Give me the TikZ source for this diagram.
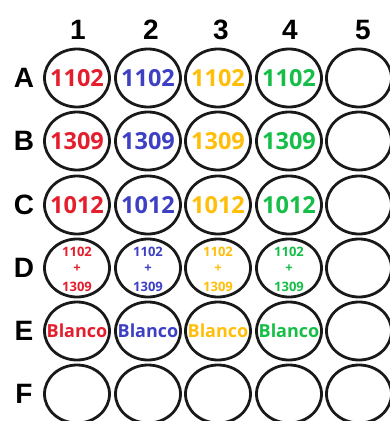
\documentclass[tikz,border=0pt]{standalone}
\usepackage{fontspec}
\usetikzlibrary{shapes.geometric}
\setmainfont{Open Sans}
\newfontfamily\hdfont{Liberation Sans}
\definecolor{cred}{RGB}{228,30,45}
\definecolor{cblue}{RGB}{62,64,196}
\definecolor{cyel}{RGB}{255,190,10}
\definecolor{cgreen}{RGB}{22,190,72}
\begin{document}
\begin{tikzpicture}[x=1pt,y=-1pt,
  well/.style={draw=black!90,line width=2.8pt,ellipse,minimum width=65pt,minimum height=58pt,inner sep=0pt},
  hd/.style={font=\hdfont\bfseries\fontsize{28}{28}\selectfont,inner sep=0pt},
  big/.style={font=\bfseries\fontsize{23.5}{23.5}\selectfont,inner sep=0pt},
  small/.style={font=\bfseries\fontsize{13}{13}\selectfont,inner sep=0pt},
  bl/.style={font=\bfseries\fontsize{18}{18}\selectfont,inner sep=0pt}]
\useasboundingbox (0,0) rectangle (390,421);
\clip (0,0) rectangle (390,421);
% column headers
\foreach \c/\x in {1/78,2/151,3/221,4/290,5/363}
  \node[hd] (col\c) at (\x,30) {\c};
% row headers
\foreach \r/\y in {A/78,B/141,C/205,D/268,E/331,F/394}
  \node[hd] (row\r) at (24,\y) {\r};
% wells
\foreach \r/\y in {A/78,B/141,C/205,D/268,E/331,F/394}
  \foreach \c/\x in {1/77,2/148,3/218,4/289,5/359}
    \node[well] (w\r\c) at (\x,\y) {};
% labels
\foreach \c/\col in {1/cred,2/cblue,3/cyel,4/cgreen}{
  \node[big,text=\col] (tA\c) at (wA\c) {1102};
  \node[big,text=\col] (tB\c) at (wB\c) {1309};
  \node[big,text=\col] (tC\c) at (wC\c) {1012};
  \node[small,text=\col] (tD\c a) at ([yshift=16pt]wD\c) {1102};
  \node[small,text=\col] (tD\c b) at ([yshift=-1pt]wD\c) {+};
  \node[small,text=\col] (tD\c c) at ([yshift=-19pt]wD\c) {1309};
  \node[bl,text=\col] (tE\c) at (wE\c) {Blanco};
}
\end{tikzpicture}
\end{document}
